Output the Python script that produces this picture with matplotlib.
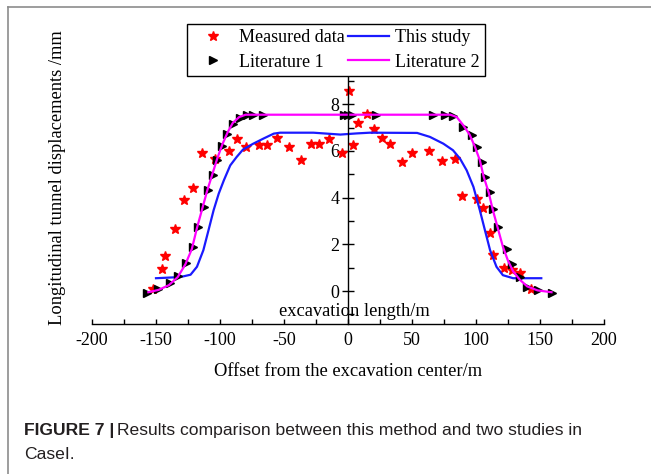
import numpy as np
import matplotlib
matplotlib.use('Agg')
import matplotlib.pyplot as plt
from matplotlib.lines import Line2D
from matplotlib.ticker import MultipleLocator

plt.rcParams['font.family'] = ['Liberation Serif', 'DejaVu Serif']
plt.rcParams['axes.unicode_minus'] = False

# measured data (red stars)
meas_x = [-152.6, -145.6, -142.7, -134.9, -127.9, -121.3, -114.1, -103.9, -92.7, -87.0,
          -79.9, -69.5, -63.5, -55.7, -46.1, -36.7, -28.9, -22.7, -15.1, -4.9,
          0.8, 4.2, 8.1, 14.6, 20.6, 26.3, 33.0, 42.2, 49.7, 63.5,
          73.7, 83.6, 89.3, 100.5, 105.7, 111.2, 113.3, 121.6, 127.9, 134.4, 143.0]
meas_y = [0.07, 0.93, 1.50, 2.64, 3.89, 4.43, 5.93, 5.67, 6.00, 6.53,
          6.17, 6.24, 6.24, 6.55, 6.17, 5.60, 6.28, 6.28, 6.53, 5.93,
          8.55, 6.24, 7.19, 7.59, 6.92, 6.55, 6.28, 5.53, 5.90, 6.00,
          5.58, 5.67, 4.09, 3.93, 3.56, 2.47, 1.55, 0.98, 0.90, 0.78, 0.07]

# this study (blue line)
study_x = [-150, -131, -123, -118, -113, -109, -105, -101, -97, -92, -87, -82, -74, -66,
           -58, -53, -27, -6, 7, 17, 54, 64, 74.5, 82, 87.5, 92.7, 98, 103, 107, 111,
           116, 121, 129, 151]
study_y = [0.55, 0.60, 0.70, 1.04, 1.75, 2.60, 3.46, 4.17, 4.74, 5.38, 5.74, 6.06, 6.31, 6.53,
           6.74, 6.78, 6.78, 6.70, 6.75, 6.78, 6.77, 6.60, 6.31, 6.03, 5.67, 5.17, 4.46, 3.46, 2.60, 1.75,
           1.04, 0.68, 0.55, 0.55]

# literature 1 (black triangles)
lit1_x = [-157.3, -148.2, -139.1, -132.6, -126.6, -120.9, -116.9, -112.5, -109.1, -105.2,
          -102.6, -98.7, -94.8, -89.6, -84.4, -79.1, -74.0, -66.2, -3, 0, 3, 22,
          66.7, 75.8, 82.3, 90.1, 96.6, 100.5, 104.4, 107.0, 110.9, 113.5, 117.4,
          124.0, 127.9, 134.4, 139.6, 148.7, 159.1]
lit1_y = [-0.07, 0.07, 0.36, 0.64, 1.21, 1.89, 2.75, 3.58, 4.32, 4.96,
          5.60, 6.20, 6.74, 7.17, 7.40, 7.55, 7.55, 7.55, 7.55, 7.55, 7.55, 7.55,
          7.55, 7.55, 7.50, 7.02, 6.67, 6.17, 5.53, 4.88, 4.24, 3.53, 2.75,
          1.82, 1.18, 0.61, 0.18, 0.04, -0.07]

# literature 2 (magenta line)
lit2_x = [-156, -148, -140, -133, -127, -122, -118, -114, -110, -106, -102, -98, -94, -90,
          -85, -80, 0, 80, 85, 90, 95, 99, 103, 106, 110, 113, 117, 121, 125, 129,
          134, 140, 148, 159]
lit2_y = [-0.05, 0.05, 0.25, 0.60, 1.15, 1.80, 2.70, 3.50, 4.30, 5.00, 5.70, 6.30, 6.80, 7.20,
          7.45, 7.55, 7.55, 7.55, 7.45, 7.10, 6.70, 6.20, 5.60, 4.90, 4.20, 3.50, 2.70, 1.90, 1.30, 0.85,
          0.50, 0.20, 0.03, -0.05]

W, H = 651, 474
FS = 13.3
fig = plt.figure(figsize=(W / 100, H / 100), dpi=100)
ax = fig.add_axes([92 / W, 1 - 324 / H, 512 / W, 249 / H])

h_meas, = ax.plot(meas_x, meas_y, linestyle='none', marker='*', color='red', ms=7.5,
                  label='Measured data')
h_study, = ax.plot(study_x, study_y, color='#1a1aff', lw=1.6, label='This study')
h_lit1, = ax.plot(lit1_x, lit1_y, linestyle='none', marker='>', color='black', ms=5.5,
                  label='Literature 1')
h_lit2, = ax.plot(lit2_x, lit2_y, color='#ff00ff', lw=1.6, label='Literature 2')

ax.set_xlim(-200, 200)
ax.set_ylim(-1.41, 9.25)

ax.spines['left'].set_position(('data', 0))
ax.spines['top'].set_visible(False)
ax.spines['right'].set_visible(False)
for s in ['left', 'bottom']:
    ax.spines[s].set_linewidth(1.0)

ax.xaxis.set_major_locator(MultipleLocator(50))
ax.xaxis.set_minor_locator(MultipleLocator(25))
ax.set_yticks([0, 2, 4, 6, 8])
ax.yaxis.set_minor_locator(MultipleLocator(1))
ax.tick_params(axis='x', which='both', direction='in', length=3.5, width=1,
               labelsize=13, pad=6)
ax.tick_params(axis='y', which='major', direction='inout', length=8, width=1,
               labelsize=13, pad=2)
ax.tick_params(axis='y', which='minor', direction='in', length=4, width=1)
ax.set_facecolor('none')

# column-wise fill: col 1 = markers, col 2 = lines
leg = ax.legend([h_meas, h_lit1, h_study, h_lit2],
                ['Measured data', 'Literature 1', 'This study', 'Literature 2'],
                ncol=2, loc='upper left', bbox_to_anchor=(187 / W, 1 - 24 / H),
                bbox_transform=fig.transFigure, fontsize=13, frameon=True,
                fancybox=False, edgecolor='black', framealpha=1, numpoints=1,
                handlelength=2.3, handletextpad=0.3, columnspacing=0.15,
                labelspacing=0.4, borderpad=0.3, borderaxespad=0)
leg.get_frame().set_linewidth(1.0)

fig.text(354 / W, 1 - 312 / H, 'excavation length/m', ha='center', va='center',
         fontsize=FS)
fig.text(348 / W, 1 - 371 / H, 'Offset from the excavation center/m', ha='center',
         va='center', fontsize=FS)
fig.text(58 / W, 1 - 178 / H, 'Longitudinal tunnel displacements /mm', ha='center',
         va='center', rotation=90, fontsize=FS)

# outer frame
fig.add_artist(Line2D([8 / W, 8 / W], [0, 1 - 7 / H], color='#8c8c8c', lw=1.2))
fig.add_artist(Line2D([8 / W, 1], [1 - 7 / H, 1 - 7 / H], color='#8c8c8c', lw=1.2))

# caption
cap_font = ['Liberation Sans', 'DejaVu Sans']
CFS = 12.6
t1 = fig.text(24 / W, 1 - 435 / H, 'FIGURE 7 |', fontsize=CFS, fontweight='bold',
              family=cap_font, color='#231f20', va='baseline')
fig.canvas.draw()
bb = t1.get_window_extent()
fig.text((bb.x1 + 3) / W, 1 - 435 / H,
         'Results comparison between this method and two studies in',
         fontsize=CFS, family=cap_font, color='#231f20', va='baseline')
fig.text(24 / W, 1 - 459 / H, 'CaseI.', fontsize=CFS, family=cap_font,
         color='#231f20', va='baseline')

fig.savefig('out.png', dpi=100)
